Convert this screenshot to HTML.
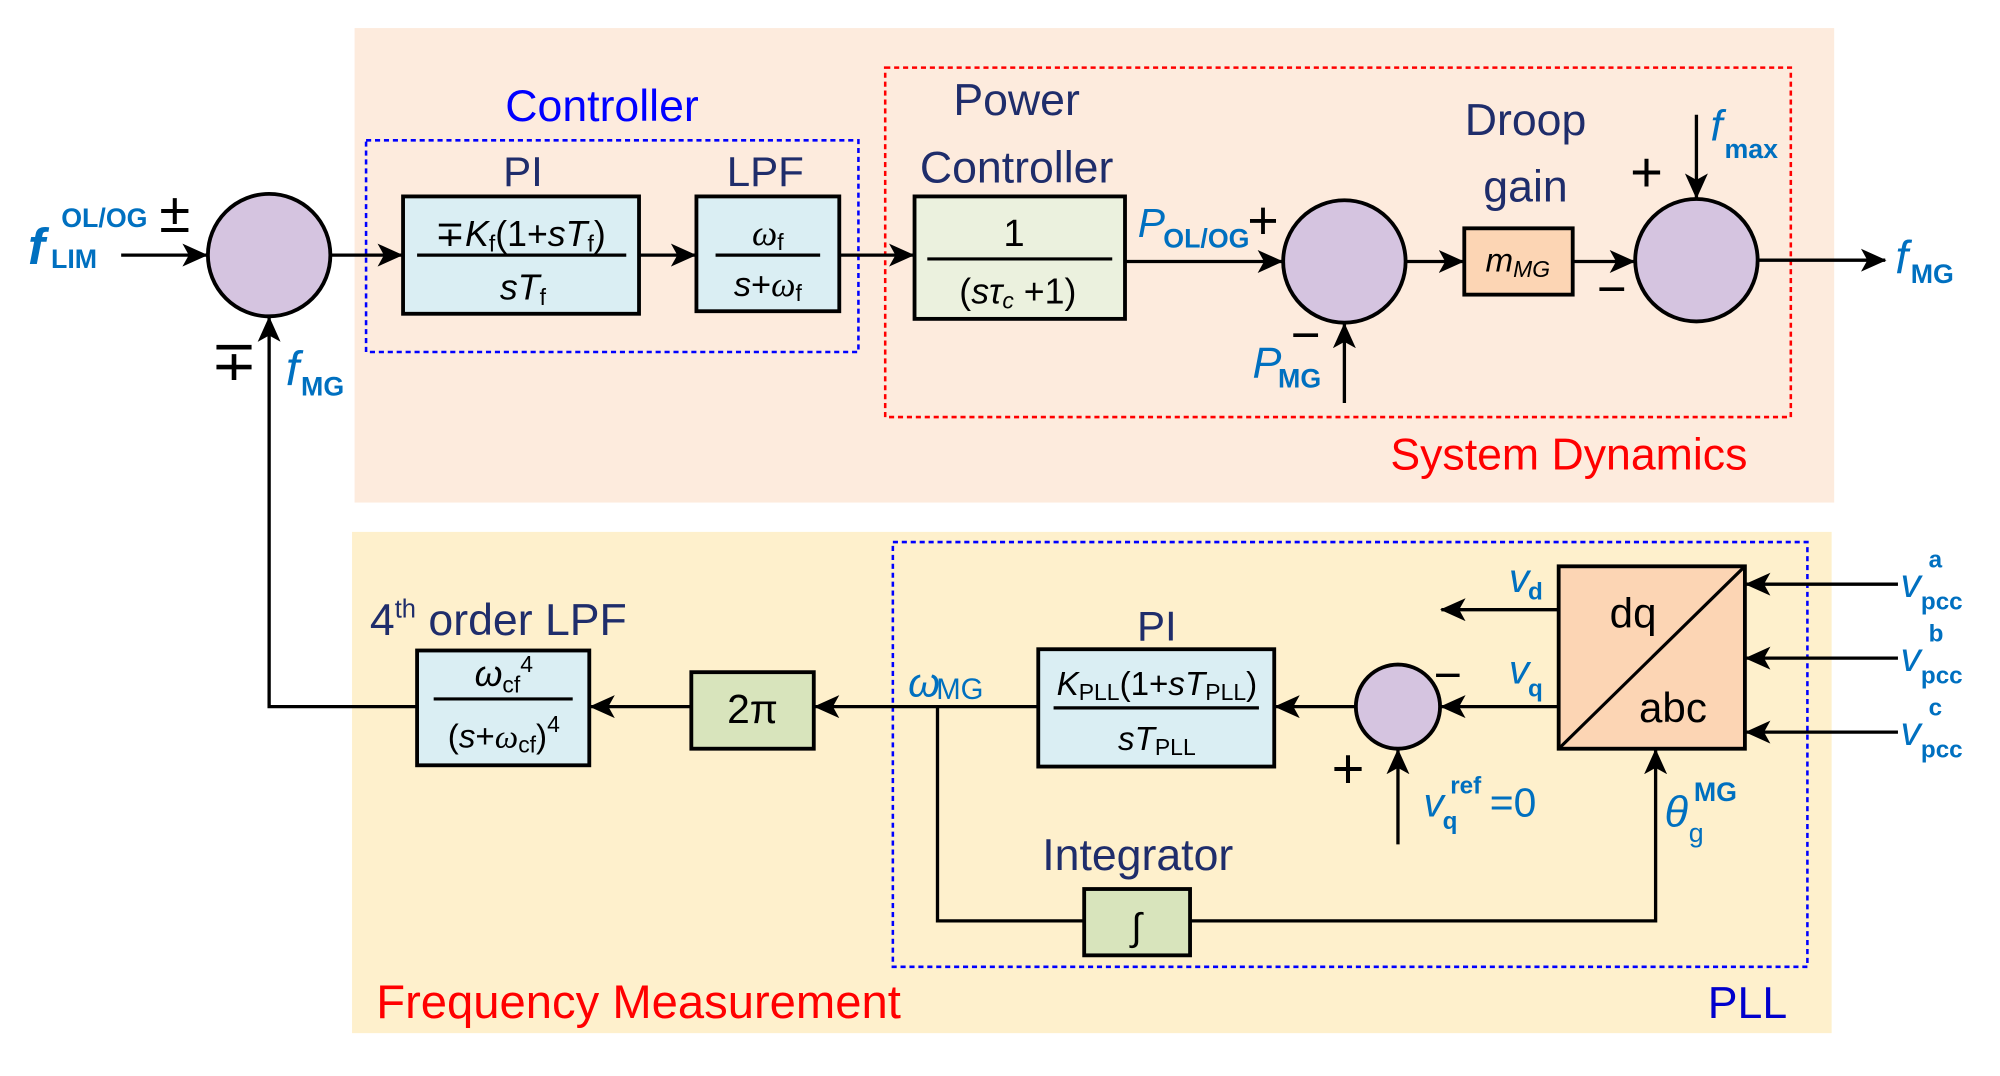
<!DOCTYPE html>
<html><head><meta charset="utf-8"><style>
html,body{margin:0;padding:0;background:#fff;}
svg{display:block;}
text{font-family:"Liberation Sans","DejaVu Sans",sans-serif;}
.nv{fill:#1f2d6b;}
.bl{fill:#0070c0;font-style:italic;}
.bx{stroke:#000;stroke-width:3;}
.ln{stroke:#000;stroke-width:2.6;fill:none;}
</style></head><body>
<svg width="2000" height="1076" viewBox="0 0 1568 843.6" preserveAspectRatio="none" xmlns="http://www.w3.org/2000/svg">
<defs>
<marker id="A" markerWidth="20" markerHeight="18" refX="19" refY="9" orient="auto" markerUnits="userSpaceOnUse" viewBox="0 0 20 18">
<path d="M0,0 L20,9 L0,18 L5,9z" fill="#000"/></marker>
</defs>
<rect x="278" y="22" width="1160" height="372" fill="#fdebdd"/>
<rect x="276" y="417" width="1160" height="393" fill="#fef0cc"/>
<rect x="287" y="110" width="386" height="166" fill="none" stroke="#0000ff" stroke-width="2" stroke-dasharray="4,3"/>
<rect x="694" y="53" width="710" height="274" fill="none" stroke="#ff0000" stroke-width="2" stroke-dasharray="4,3"/>
<rect x="700" y="425" width="717" height="333" fill="none" stroke="#0000ff" stroke-width="2" stroke-dasharray="4,3"/>

<line class="ln" x1="95" y1="200" x2="162" y2="200" marker-end="url(#A)"/>
<line class="ln" x1="259" y1="200" x2="315" y2="200" marker-end="url(#A)"/>
<line class="ln" x1="501" y1="200" x2="545" y2="200" marker-end="url(#A)"/>
<line class="ln" x1="658" y1="200" x2="716" y2="200" marker-end="url(#A)"/>
<line class="ln" x1="882" y1="205" x2="1005" y2="205" marker-end="url(#A)"/>
<line class="ln" x1="1102" y1="205" x2="1147" y2="205" marker-end="url(#A)"/>
<line class="ln" x1="1233" y1="205" x2="1281" y2="205" marker-end="url(#A)"/>
<line class="ln" x1="1378" y1="204" x2="1478" y2="204" marker-end="url(#A)"/>
<line class="ln" x1="1054" y1="316" x2="1054" y2="254" marker-end="url(#A)"/>
<line class="ln" x1="1330" y1="90" x2="1330" y2="155" marker-end="url(#A)"/>
<polyline class="ln" points="327,554 211,554 211,249" marker-end="url(#A)"/>

<line class="ln" x1="1222" y1="478" x2="1130" y2="478" marker-end="url(#A)"/>
<line class="ln" x1="1222" y1="554" x2="1130" y2="554" marker-end="url(#A)"/>
<line class="ln" x1="1488" y1="458" x2="1369" y2="458" marker-end="url(#A)"/>
<line class="ln" x1="1488" y1="516" x2="1369" y2="516" marker-end="url(#A)"/>
<line class="ln" x1="1488" y1="574" x2="1369" y2="574" marker-end="url(#A)"/>
<line class="ln" x1="1063" y1="554" x2="1000" y2="554" marker-end="url(#A)"/>
<line class="ln" x1="814" y1="554" x2="639" y2="554" marker-end="url(#A)"/>
<line class="ln" x1="542" y1="554" x2="463" y2="554" marker-end="url(#A)"/>
<polyline class="ln" points="735,554 735,722 850,722"/>
<polyline class="ln" points="933,722 1298,722 1298,588" marker-end="url(#A)"/>
<line class="ln" x1="1096" y1="662" x2="1096" y2="588" marker-end="url(#A)"/>

<circle cx="211" cy="200" r="48" fill="#d5c4e0" class="bx"/>
<circle cx="1054" cy="205" r="48" fill="#d5c4e0" class="bx"/>
<circle cx="1330" cy="204" r="48" fill="#d5c4e0" class="bx"/>
<circle cx="1096" cy="554" r="33" fill="#d5c4e0" class="bx"/>

<rect x="316" y="154" width="185" height="92" fill="#daeef3" class="bx"/>
<rect x="546" y="154" width="112" height="90" fill="#daeef3" class="bx"/>
<rect x="717" y="154" width="165" height="96" fill="#ebf1de" class="bx"/>
<rect x="1148" y="179" width="85" height="52" fill="#fcd5b4" class="bx"/>
<rect x="327" y="510" width="135" height="90" fill="#daeef3" class="bx"/>
<rect x="542" y="527" width="96" height="60" fill="#d8e4bc" class="bx"/>
<rect x="814" y="509" width="185" height="92" fill="#daeef3" class="bx"/>
<rect x="1222" y="444" width="146" height="143" fill="#fcd5b4" class="bx"/>
<line x1="1222" y1="587" x2="1368" y2="444" stroke="#000" stroke-width="2.5"/>
<rect x="850" y="697" width="83" height="52" fill="#d8e4bc" class="bx"/>

<line x1="327" y1="200" x2="491" y2="200" stroke="#000" stroke-width="2.5"/>
<line x1="561" y1="200" x2="643" y2="200" stroke="#000" stroke-width="2.5"/>
<line x1="727" y1="203" x2="872" y2="203" stroke="#000" stroke-width="2.5"/>
<line x1="340" y1="548" x2="449" y2="548" stroke="#000" stroke-width="2.5"/>
<line x1="826" y1="555" x2="987" y2="555" stroke="#000" stroke-width="2.5"/>

<text x="408" y="193" font-size="28" text-anchor="middle">∓<tspan font-style="italic">K</tspan><tspan font-size="18" dy="4">f</tspan><tspan dy="-4">(1+</tspan><tspan font-style="italic">sT</tspan><tspan font-size="18" dy="4">f</tspan><tspan dy="-4">)</tspan></text>
<text x="410" y="235" font-size="28" text-anchor="middle"><tspan font-style="italic">sT</tspan><tspan font-size="18" dy="4">f</tspan></text>
<text x="602" y="192" font-size="28" text-anchor="middle" font-family="Liberation Serif"><tspan font-style="italic" font-family="Liberation Serif">ω</tspan><tspan font-size="18" dy="4">f</tspan></text>
<text x="602" y="232" font-size="27" text-anchor="middle"><tspan font-style="italic">s</tspan>+<tspan font-style="italic" font-family="Liberation Serif">ω</tspan><tspan font-size="18" dy="4">f</tspan></text>
<text x="795" y="193" font-size="30" text-anchor="middle">1</text>
<text x="798" y="238" font-size="28" text-anchor="middle">(<tspan font-style="italic">sτ</tspan><tspan font-size="18" dy="4" font-style="italic">c</tspan><tspan dy="-4"> +1)</tspan></text>
<text x="1190" y="213" font-size="26" text-anchor="middle" font-style="italic">m<tspan font-size="18" dy="4">MG</tspan></text>
<text x="395" y="538" font-size="28" text-anchor="middle" font-family="Liberation Serif"><tspan font-style="italic">ω</tspan><tspan font-size="18" dy="5" font-family="Liberation Sans">cf</tspan><tspan font-size="18" dy="-16" font-family="Liberation Sans">4</tspan></text>
<text x="395" y="586" font-size="26" text-anchor="middle">(<tspan font-style="italic">s</tspan>+<tspan font-style="italic" font-family="Liberation Serif">ω</tspan><tspan font-size="18" dy="4">cf</tspan><tspan dy="-4">)</tspan><tspan font-size="18" dy="-12">4</tspan></text>
<text x="590" y="567" font-size="32" text-anchor="middle">2π</text>
<text x="907" y="545" font-size="26" text-anchor="middle"><tspan font-style="italic">K</tspan><tspan font-size="18" dy="4">PLL</tspan><tspan dy="-4">(1+</tspan><tspan font-style="italic">sT</tspan><tspan font-size="18" dy="4">PLL</tspan><tspan dy="-4">)</tspan></text>
<text x="907" y="588" font-size="26" text-anchor="middle"><tspan font-style="italic">sT</tspan><tspan font-size="18" dy="4">PLL</tspan></text>
<text x="1262" y="492" font-size="33">dq</text>
<text x="1285" y="566" font-size="33">abc</text>
<text x="891" y="737" font-size="30" text-anchor="middle" font-family="Liberation Serif">∫</text>

<text x="472" y="95" font-size="35" fill="#0000ff" text-anchor="middle">Controller</text>
<text x="410" y="146" font-size="33" class="nv" text-anchor="middle">PI</text>
<text x="600" y="146" font-size="33" class="nv" text-anchor="middle">LPF</text>
<text x="797" y="90" font-size="35" class="nv" text-anchor="middle">Power</text>
<text x="797" y="143" font-size="35" class="nv" text-anchor="middle">Controller</text>
<text x="1196" y="106" font-size="35" class="nv" text-anchor="middle">Droop</text>
<text x="1196" y="158" font-size="35" class="nv" text-anchor="middle">gain</text>
<text x="1230" y="368" font-size="35" fill="#ff0000" text-anchor="middle">System Dynamics</text>
<text x="290" y="498" font-size="35" class="nv">4<tspan font-size="20" dy="-14">th</tspan><tspan dy="14"> order LPF</tspan></text>
<text x="907" y="502" font-size="33" class="nv" text-anchor="middle">PI</text>
<text x="892" y="682" font-size="35" class="nv" text-anchor="middle">Integrator</text>
<text x="295" y="798" font-size="37" fill="#ff0000">Frequency Measurement</text>
<text x="1370" y="798" font-size="35" fill="#0000cc" text-anchor="middle">PLL</text>

<text x="22" y="207" font-size="40" class="bl" font-weight="bold">f</text>
<text x="40" y="210" font-size="21" fill="#0070c0" font-weight="bold">LIM</text>
<text x="48" y="178" font-size="21" fill="#0070c0" font-weight="bold">OL/OG</text>
<text x="125" y="182" font-size="44">±</text>
<text x="165" y="298" font-size="44">∓</text>
<text x="224" y="302" font-size="38" class="bl">f</text>
<text x="236" y="310" font-size="21" fill="#0070c0" font-weight="bold">MG</text>
<text x="892" y="186" font-size="32" class="bl">P</text>
<text x="912" y="194" font-size="21" fill="#0070c0" font-weight="bold">OL/OG</text>
<text x="978" y="187" font-size="42">+</text>
<text x="1012" y="276" font-size="40">−</text>
<text x="982" y="296" font-size="34" class="bl">P</text>
<text x="1002" y="304" font-size="21" fill="#0070c0" font-weight="bold">MG</text>
<text x="1278" y="150" font-size="44">+</text>
<text x="1252" y="240" font-size="40">−</text>
<text x="1341" y="110" font-size="34" class="bl">f</text>
<text x="1352" y="124" font-size="21" fill="#0070c0" font-weight="bold">max</text>
<text x="1486" y="214" font-size="36" class="bl">f</text>
<text x="1498" y="222" font-size="21" fill="#0070c0" font-weight="bold">MG</text>

<text x="712" y="546" font-size="32" fill="#0070c0" font-family="Liberation Serif" font-style="italic">ω</text>
<text x="734" y="548" font-size="23" fill="#0070c0">MG</text>
<text x="1183" y="464" font-size="32" class="bl">v</text>
<text x="1198" y="470" font-size="19" fill="#0070c0" font-weight="bold">d</text>
<text x="1183" y="536" font-size="32" class="bl">v</text>
<text x="1198" y="546" font-size="19" fill="#0070c0" font-weight="bold">q</text>
<text x="1124" y="542" font-size="38">−</text>
<text x="1044" y="618" font-size="44">+</text>
<text x="1116" y="640" font-size="32" class="bl">v</text>
<text x="1131" y="650" font-size="19" fill="#0070c0" font-weight="bold">q</text>
<text x="1137" y="622" font-size="19" fill="#0070c0" font-weight="bold">ref</text>
<text x="1168" y="640" font-size="32" fill="#0070c0">=0</text>
<text x="1305" y="648" font-size="34" fill="#0070c0" font-family="Liberation Serif" font-style="italic">θ</text>
<text x="1324" y="660" font-size="21" fill="#0070c0" font-family="Liberation Serif">g</text>
<text x="1328" y="628" font-size="21" fill="#0070c0" font-weight="bold">MG</text>
<text x="1490" y="468" font-size="32" class="bl">v</text>
<text x="1506" y="478" font-size="19" fill="#0070c0" font-weight="bold">pcc</text>
<text x="1512" y="445" font-size="19" fill="#0070c0" font-weight="bold">a</text>
<text x="1490" y="526" font-size="32" class="bl">v</text>
<text x="1506" y="536" font-size="19" fill="#0070c0" font-weight="bold">pcc</text>
<text x="1512" y="503" font-size="19" fill="#0070c0" font-weight="bold">b</text>
<text x="1490" y="584" font-size="32" class="bl">v</text>
<text x="1506" y="594" font-size="19" fill="#0070c0" font-weight="bold">pcc</text>
<text x="1512" y="561" font-size="19" fill="#0070c0" font-weight="bold">c</text>
</svg>
</body></html>
